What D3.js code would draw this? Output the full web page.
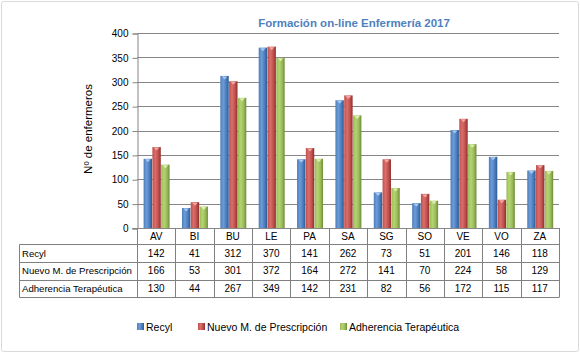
<!DOCTYPE html>
<html>
<head>
<meta charset="utf-8">
<script src="https://cdn.jsdelivr.net/npm/d3@7"></script>
<style>
  body { margin: 0; background: #fff; }
  svg { display: block; font-family: "Liberation Sans", Arial, sans-serif; }
</style>
</head>
<body>
<svg id="chart" width="580" height="353"></svg>
<script>
const categories = ['AV', 'BI', 'BU', 'LE', 'PA', 'SA', 'SG', 'SO', 'VE', 'VO', 'ZA'];
const seriesNames = ['Recyl', 'Nuevo M. de Prescripción', 'Adherencia Terapéutica'];
const recyl = [142, 41, 312, 370, 141, 262, 73, 51, 201, 146, 118];
const nuevo = [166, 53, 301, 372, 164, 272, 141, 70, 224, 58, 129];
const adherencia = [130, 44, 267, 349, 142, 231, 82, 56, 172, 115, 117];
const yTicks = [0, 50, 100, 150, 200, 250, 300, 350, 400];

const series = [recyl, nuevo, adherencia];
const colors = [
  { base: '#4A7EBE', light: '#6E9BD6', dark: '#2D5A93', tip: '#A9C6EC' },
  { base: '#C0504D', light: '#DA6E6A', dark: '#8E2F2C', tip: '#F0A8A5' },
  { base: '#9BBB59', light: '#B4D474', dark: '#6E8C36', tip: '#DDEEB0' }
];

const svg = d3.select('#chart');
const margin = { left: 137, right: 559, top: 33, bottom: 228 };

// outer frame
svg.append('rect').attr('x', 1.5).attr('y', 1.5).attr('width', 577).attr('height', 350)
  .attr('fill', '#fff').attr('stroke', '#d9d9d9').attr('rx', 2);

const defs = svg.append('defs');
colors.forEach((c, i) => {
  const g = defs.append('linearGradient').attr('id', `bar${i}`).attr('x1', 0).attr('x2', 1);
  g.append('stop').attr('offset', '0%').attr('stop-color', c.base);
  g.append('stop').attr('offset', '35%').attr('stop-color', c.light);
  g.append('stop').attr('offset', '70%').attr('stop-color', c.base);
  g.append('stop').attr('offset', '100%').attr('stop-color', c.dark);
});

const x = d3.scaleBand().domain(categories).range([margin.left, margin.right]);
const xInner = d3.scaleBand().domain(d3.range(3))
  .range([6.6, x.bandwidth() - 5.8]).paddingInner(0.04);
const y = d3.scaleLinear().domain([0, 400]).range([margin.bottom, margin.top]);

// gridlines
svg.append('g')
  .selectAll('line').data(yTicks.filter(d => d > 0)).join('line')
  .attr('x1', margin.left).attr('x2', margin.right)
  .attr('y1', d => Math.round(y(d)) + 0.5).attr('y2', d => Math.round(y(d)) + 0.5)
  .attr('stroke', '#868686');

// y axis
const yAxis = svg.append('g')
  .attr('transform', `translate(${margin.left + 0.5},0.5)`)
  .call(d3.axisLeft(y).tickValues(yTicks).tickSize(5).tickPadding(4));
yAxis.select('.domain').attr('stroke', '#868686');
yAxis.selectAll('.tick line').attr('stroke', '#868686');
yAxis.selectAll('.tick text').attr('font-size', 10).attr('fill', '#000')
  .attr('font-family', '"Liberation Sans", Arial, sans-serif');

// bars
series.forEach((vals, si) => {
  const g = svg.append('g');
  g.selectAll('rect').data(vals).join('rect')
    .attr('x', (d, i) => x(categories[i]) + xInner(si))
    .attr('y', d => y(d))
    .attr('width', xInner.bandwidth())
    .attr('height', d => y(0) - y(d))
    .attr('fill', `url(#bar${si})`);
  // bevel triangle on top
  g.selectAll('path').data(vals).join('path')
    .attr('d', (d, i) => {
      const x0 = x(categories[i]) + xInner(si);
      const w = xInner.bandwidth();
      const y0 = y(d);
      return `M${x0 + 1.5},${y0 + 0.5} L${x0 + w - 1.5},${y0 + 0.5} L${x0 + w / 2},${y0 + 3.5} Z`;
    })
    .attr('fill', colors[si].tip);
});

// x axis line
svg.append('line').attr('x1', margin.left - 5).attr('x2', margin.right)
  .attr('y1', margin.bottom + 0.5).attr('y2', margin.bottom + 0.5).attr('stroke', '#868686');

// data table
const rowTop = [228, 244, 262, 279.5, 297];
const tableLeft = 19.5;
const grid = svg.append('g').attr('stroke', '#808080').attr('fill', 'none');
rowTop.slice(1).forEach(ry => {
  grid.append('line').attr('x1', tableLeft).attr('x2', margin.right)
    .attr('y1', Math.round(ry) + 0.5).attr('y2', Math.round(ry) + 0.5);
});
categories.concat(['_end']).forEach((c, i) => {
  const xx = Math.round(i < categories.length ? x(c) : margin.right) + 0.5;
  grid.append('line').attr('x1', xx).attr('x2', xx)
    .attr('y1', rowTop[0]).attr('y2', Math.round(rowTop[4]) + 0.5);
});
grid.append('line').attr('x1', tableLeft).attr('x2', tableLeft)
  .attr('y1', Math.round(rowTop[1]) + 0.5).attr('y2', Math.round(rowTop[4]) + 0.5);

svg.append('g').selectAll('text').data(categories).join('text')
  .attr('x', d => x(d) + x.bandwidth() / 2)
  .attr('y', (rowTop[0] + rowTop[1]) / 2 + 3.5)
  .attr('text-anchor', 'middle').attr('font-size', 10).text(d => d);

series.forEach((vals, si) => {
  const cy = (rowTop[si + 1] + rowTop[si + 2]) / 2 + 3.5;
  svg.append('text').attr('x', 22).attr('y', cy).attr('font-size', 9.6).text(seriesNames[si]);
  svg.append('g').selectAll('text').data(vals).join('text')
    .attr('x', (d, i) => x(categories[i]) + x.bandwidth() / 2)
    .attr('y', cy).attr('text-anchor', 'middle').attr('font-size', 10).text(d => d);
});

// title
svg.append('text').attr('x', 354).attr('y', 27).attr('text-anchor', 'middle')
  .attr('font-size', 11.5).attr('font-weight', 'bold').attr('fill', '#4F81BD')
  .text('Formación on-line Enfermería 2017');

// y label
svg.append('text').attr('transform', 'translate(92,129) rotate(-90)')
  .attr('text-anchor', 'middle').attr('font-size', 11.5).text('Nº de enfermeros');

// legend
const legendX = [137, 198, 340];
seriesNames.forEach((name, i) => {
  const g = svg.append('g').attr('transform', `translate(${legendX[i]},323)`);
  g.append('rect').attr('width', 7).attr('height', 7).attr('fill', `url(#bar${i})`);
  g.append('text').attr('x', 9).attr('y', 7.5).attr('font-size', 10.5).text(name);
});
</script>
</body>
</html>
